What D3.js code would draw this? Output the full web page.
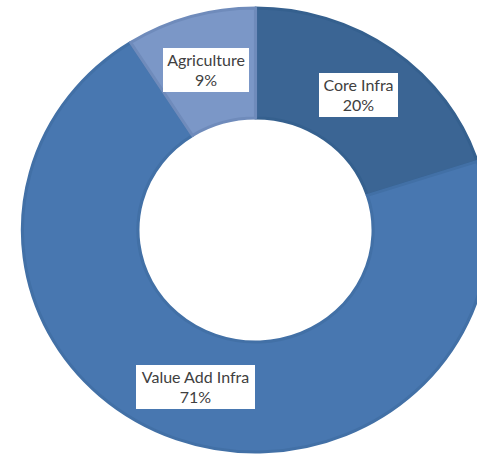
<!DOCTYPE html>
<html>
<head>
<meta charset="utf-8">
<script src="https://cdn.jsdelivr.net/npm/d3@7"></script>
<style>
  html, body { margin: 0; padding: 0; background: #ffffff; }
  svg { display: block; }
</style>
</head>
<body>
<svg id="chart" width="477" height="455"></svg>
<script>
// Sector shares, drawn clockwise from 12 o'clock
const categories = ["Core Infra", "Value Add Infra", "Agriculture"];
const shares = [20, 71, 9];
const sliceColors = ["#3b6594", "#4877b0", "#7b97c7"];
const edgeColors = ["#35608e", "#4270a6", "#6f8bbb"];

const svg = d3.select("#chart");
const cx = 255.5, cy = 230;
const outerR = 222, innerR = 112;
const stretchX = 1.05;

const data = categories.map((c, i) => ({ name: c, value: shares[i], i }));
const pie = d3.pie().sort(null).value(d => d.value);
const arcs = pie(data);
const arc = d3.arc().innerRadius(innerR).outerRadius(outerR);

const g = svg.append("g")
  .attr("transform", `translate(${cx},${cy}) scale(${stretchX},1)`);

g.selectAll("path.slice")
  .data(arcs)
  .join("path")
  .attr("class", "slice")
  .attr("d", arc)
  .attr("fill", d => sliceColors[d.data.i])
  .attr("stroke", d => edgeColors[d.data.i])
  .attr("stroke-width", 3)
  .attr("stroke-linejoin", "round");

// Data labels: white boxes with name and percentage
const labelPos = [
  { x: 358.5, y: 95, w: 79 },
  { x: 195.5, y: 387, w: 119 },
  { x: 206, y: 70, w: 86 }
];
const boxH = 44;

const labels = svg.selectAll("g.label")
  .data(arcs)
  .join("g")
  .attr("class", "label")
  .attr("transform", d => `translate(${labelPos[d.data.i].x},${labelPos[d.data.i].y})`);

labels.append("rect")
  .attr("x", d => -labelPos[d.data.i].w / 2)
  .attr("y", -boxH / 2)
  .attr("width", d => labelPos[d.data.i].w)
  .attr("height", boxH)
  .attr("fill", "#ffffff");

const txt = labels.append("text")
  .attr("text-anchor", "middle")
  .attr("font-family", "Lato, 'Open Sans', sans-serif")
  .attr("font-size", 16)
  .attr("fill", "#404040");

txt.append("tspan")
  .attr("x", 0)
  .attr("y", -4)
  .text(d => d.data.name);

txt.append("tspan")
  .attr("x", 0)
  .attr("y", 16)
  .text(d => d.data.value + "%");
</script>
</body>
</html>
